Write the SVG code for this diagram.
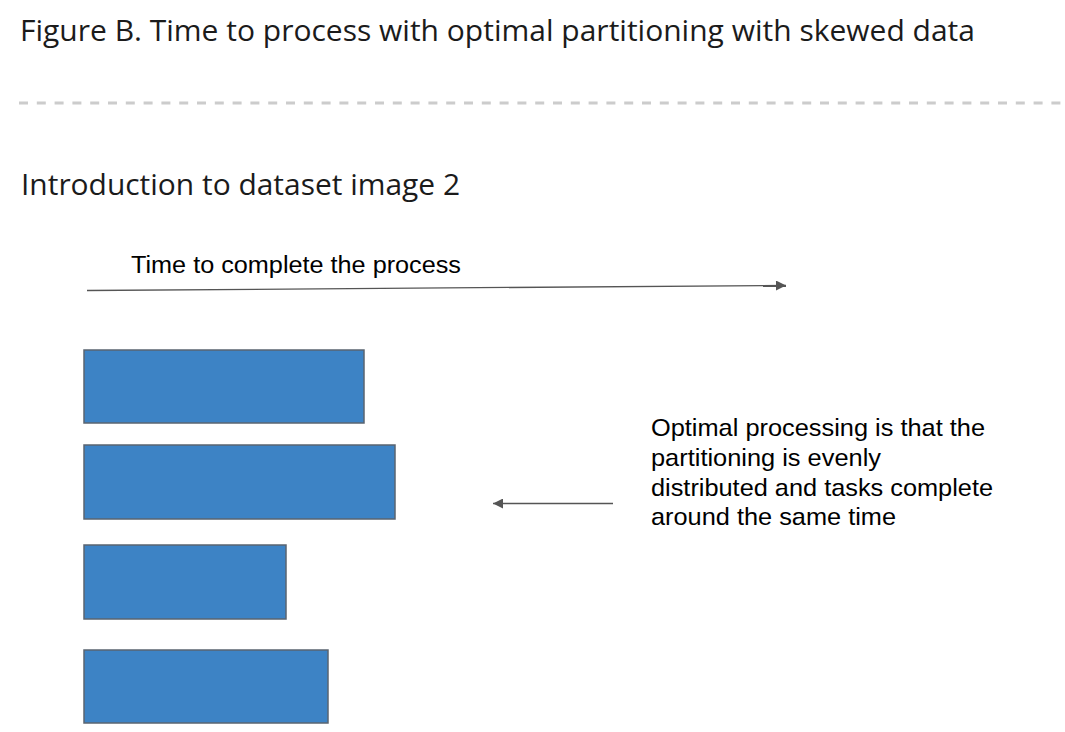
<svg xmlns="http://www.w3.org/2000/svg" width="1065" height="732" viewBox="0 0 1065 732">
<style>
.head{font-family:"Open Sans","Noto Sans",sans-serif;fill:#1b1b1b;}
.lbl{font-family:"Liberation Sans",Arial,sans-serif;font-size:23px;fill:#000;}
.note{font-family:"Liberation Sans",Arial,sans-serif;font-size:24.4px;fill:#000;}
.bar{fill:#3d83c5;stroke:#5a6470;stroke-width:1.5;}
.conn{stroke:#555;stroke-width:1.3;fill:none;}
</style>
<defs>
<marker id="ah" viewBox="0 0 10 10" refX="10" refY="5" markerWidth="14" markerHeight="10" markerUnits="userSpaceOnUse" orient="auto">
<path d="M0,0 L10,5 L0,10 z" fill="#555"/>
</marker>
</defs>
<rect width="1065" height="732" fill="#fff"/>
<text class="head" x="20" y="41" font-size="30" textLength="955" lengthAdjust="spacingAndGlyphs">Figure B. Time to process with optimal partitioning with skewed data</text>
<line x1="19" y1="103" x2="1065" y2="103" stroke="#cccccc" stroke-width="3" stroke-dasharray="9 8.8"/>
<text class="head" x="21" y="195" font-size="30" textLength="439" lengthAdjust="spacingAndGlyphs">Introduction to dataset image 2</text>
<g id="timeline-label"><text class="lbl" x="131" y="273" textLength="330" lengthAdjust="spacingAndGlyphs">Time to complete the process</text></g>
<g id="task1"><rect class="bar" x="84" y="350" width="280" height="73"/></g>
<g id="task2"><rect class="bar" x="84" y="445" width="311" height="74"/></g>
<g id="task3"><rect class="bar" x="84" y="545" width="202" height="74"/></g>
<g id="task4"><rect class="bar" x="84" y="650" width="244" height="73"/></g>
<g id="note"><text class="note"><tspan x="651" y="436" textLength="334" lengthAdjust="spacingAndGlyphs">Optimal processing is that the</tspan><tspan x="651" y="466" textLength="230" lengthAdjust="spacingAndGlyphs">partitioning is evenly</tspan><tspan x="651" y="496" textLength="342" lengthAdjust="spacingAndGlyphs">distributed and tasks complete</tspan><tspan x="651" y="525" textLength="245" lengthAdjust="spacingAndGlyphs">around the same time</tspan></text></g>
<g id="connectors">
<line class="conn" x1="87" y1="290.5" x2="786" y2="285.5" marker-end="url(#ah)"/>
<line class="conn" x1="613" y1="503.5" x2="493" y2="503.5" marker-end="url(#ah)"/>
</g>
</svg>
